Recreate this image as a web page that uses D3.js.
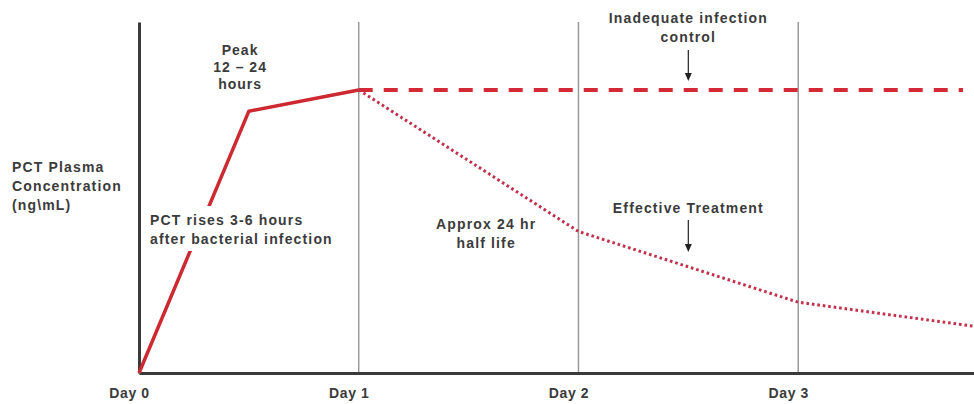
<!DOCTYPE html>
<html>
<head>
<meta charset="utf-8">
<script src="https://cdn.jsdelivr.net/npm/d3@7"></script>
<style>
  html, body { margin: 0; padding: 0; background: #fff; }
  text { font-family: "Liberation Sans", Arial, sans-serif; font-weight: bold; fill: #3b3b3b; }
</style>
</head>
<body>
<div id="chart"></div>
<script>
// Datos (concentración relativa, pico = 100)
const tickDias = [0, 1, 2, 3];
const etiquetasDias = ["Day 0", "Day 1", "Day 2", "Day 3"];

const subidaDias = [0, 0.5, 1];
const subidaValores = [0, 92.5, 100];

const mesetaDias = [1, 3.75];
const mesetaValores = [100, 100];

const caidaDias = [1, 2, 3, 3.8];
const caidaValores = [100, 50, 25, 16.5];

const ejeY = ["PCT Plasma", "Concentration", "(ng\\mL)"];
const notaPico = ["Peak", "12 – 24", "hours"];
const notaSubida = ["PCT rises 3-6 hours", "after bacterial infection"];
const notaVidaMedia = ["Approx 24 hr", "half life"];
const notaInadecuado = ["Inadequate infection", "control"];
const notaEfectivo = ["Effective Treatment"];

// Dimensiones
const width = 974;
const height = 404;

const x = d3.scaleLinear().domain([0, 3.8]).range([139, 974]);
const y = d3.scaleLinear().domain([0, 124]).range([373, 22]);

const svg = d3.select("#chart").append("svg")
  .attr("width", width)
  .attr("height", height);

// Líneas verticales de cada día
svg.append("g")
  .selectAll("line")
  .data(tickDias.slice(1))
  .join("line")
  .attr("x1", d => x(d)).attr("x2", d => x(d))
  .attr("y1", y(0)).attr("y2", y(124))
  .attr("stroke", "#9a9a9a")
  .attr("stroke-width", 1.5);

// Eje X con etiquetas "Day N"
const ejeX = svg.append("g")
  .attr("transform", `translate(0,${y(0)})`)
  .call(d3.axisBottom(x).tickValues(tickDias).tickSize(0).tickSizeOuter(0)
    .tickFormat((d, i) => etiquetasDias[i]));
ejeX.select(".domain").attr("stroke", "#3a3a3a").attr("stroke-width", 3);
ejeX.selectAll("text")
  .attr("dx", -10)
  .attr("y", 15)
  .attr("font-size", 14)
  .attr("letter-spacing", 0.6)
  .style("font-family", "'Liberation Sans', Arial, sans-serif")
  .style("font-weight", "bold")
  .attr("fill", "#3b3b3b");

// Eje Y (solo la línea)
svg.append("g")
  .attr("transform", `translate(${x(0)},0)`)
  .call(d3.axisLeft(y).tickValues([]).tickSize(0).tickSizeOuter(0))
  .select(".domain").attr("stroke", "#3a3a3a").attr("stroke-width", 3);

const linea = d3.line()
  .x(d => x(d[0]))
  .y(d => y(d[1]));

// Subida hasta el pico
svg.append("path")
  .datum(d3.zip(subidaDias, subidaValores))
  .attr("fill", "none")
  .attr("stroke", "#cc2a30")
  .attr("stroke-width", 3.5)
  .attr("stroke-linejoin", "round")
  .attr("d", linea);

// Control inadecuado (discontinua)
svg.append("path")
  .datum(d3.zip(mesetaDias, mesetaValores))
  .attr("fill", "none")
  .attr("stroke", "#d42a36")
  .attr("stroke-width", 4)
  .attr("stroke-dasharray", "14 11")
  .attr("d", linea);

// Tratamiento efectivo (punteada)
svg.append("path")
  .datum(d3.zip(caidaDias, caidaValores))
  .attr("fill", "none")
  .attr("stroke", "#c2304c")
  .attr("stroke-width", 3)
  .attr("stroke-dasharray", "2.6 2.9")
  .attr("d", linea);

console.log("Lineas ok");

// Bloque de texto con varias líneas
function bloque(lineas, px, py, anchor, fondo) {
  const g = svg.append("g");
  const t = g.append("text")
    .attr("font-size", 14)
    .attr("letter-spacing", 1.15)
    .attr("text-anchor", anchor);
  t.selectAll("tspan")
    .data(lineas)
    .join("tspan")
    .attr("x", px)
    .attr("y", (d, i) => py + i * 19)
    .text(d => d);
  if (fondo) {
    const b = t.node().getBBox();
    g.insert("rect", "text")
      .attr("x", b.x - 4).attr("y", b.y - 6)
      .attr("width", b.width + 8).attr("height", b.height + 10)
      .attr("fill", "#fff");
  }
  return g;
}

bloque(ejeY, 12, 172, "start", false);
bloque(notaSubida, 150, 225, "start", true);
bloque(notaVidaMedia, x(1.58), 229, "middle", false);
bloque(notaInadecuado, x(2.5), 23, "middle", false);
bloque(notaEfectivo, x(2.5), 213, "middle", false);

// Etiqueta del pico (líneas más juntas)
svg.append("text")
  .attr("font-size", 14)
  .attr("letter-spacing", 1.0)
  .attr("text-anchor", "middle")
  .selectAll("tspan")
  .data(notaPico)
  .join("tspan")
  .attr("x", x(0.46))
  .attr("y", (d, i) => 55 + i * 17)
  .text(d => d);

// Flechas
function flecha(px, y1, y2) {
  svg.append("line")
    .attr("x1", px).attr("x2", px)
    .attr("y1", y1).attr("y2", y2 - 6)
    .attr("stroke", "#333")
    .attr("stroke-width", 1.3);
  svg.append("path")
    .attr("d", `M${px - 3.5},${y2 - 8}L${px + 3.5},${y2 - 8}L${px},${y2}Z`)
    .attr("fill", "#222");
}

flecha(x(2.5), 50, 81);
flecha(x(2.5), 220, 252);

console.log("Textos ok");
</script>
</body>
</html>
